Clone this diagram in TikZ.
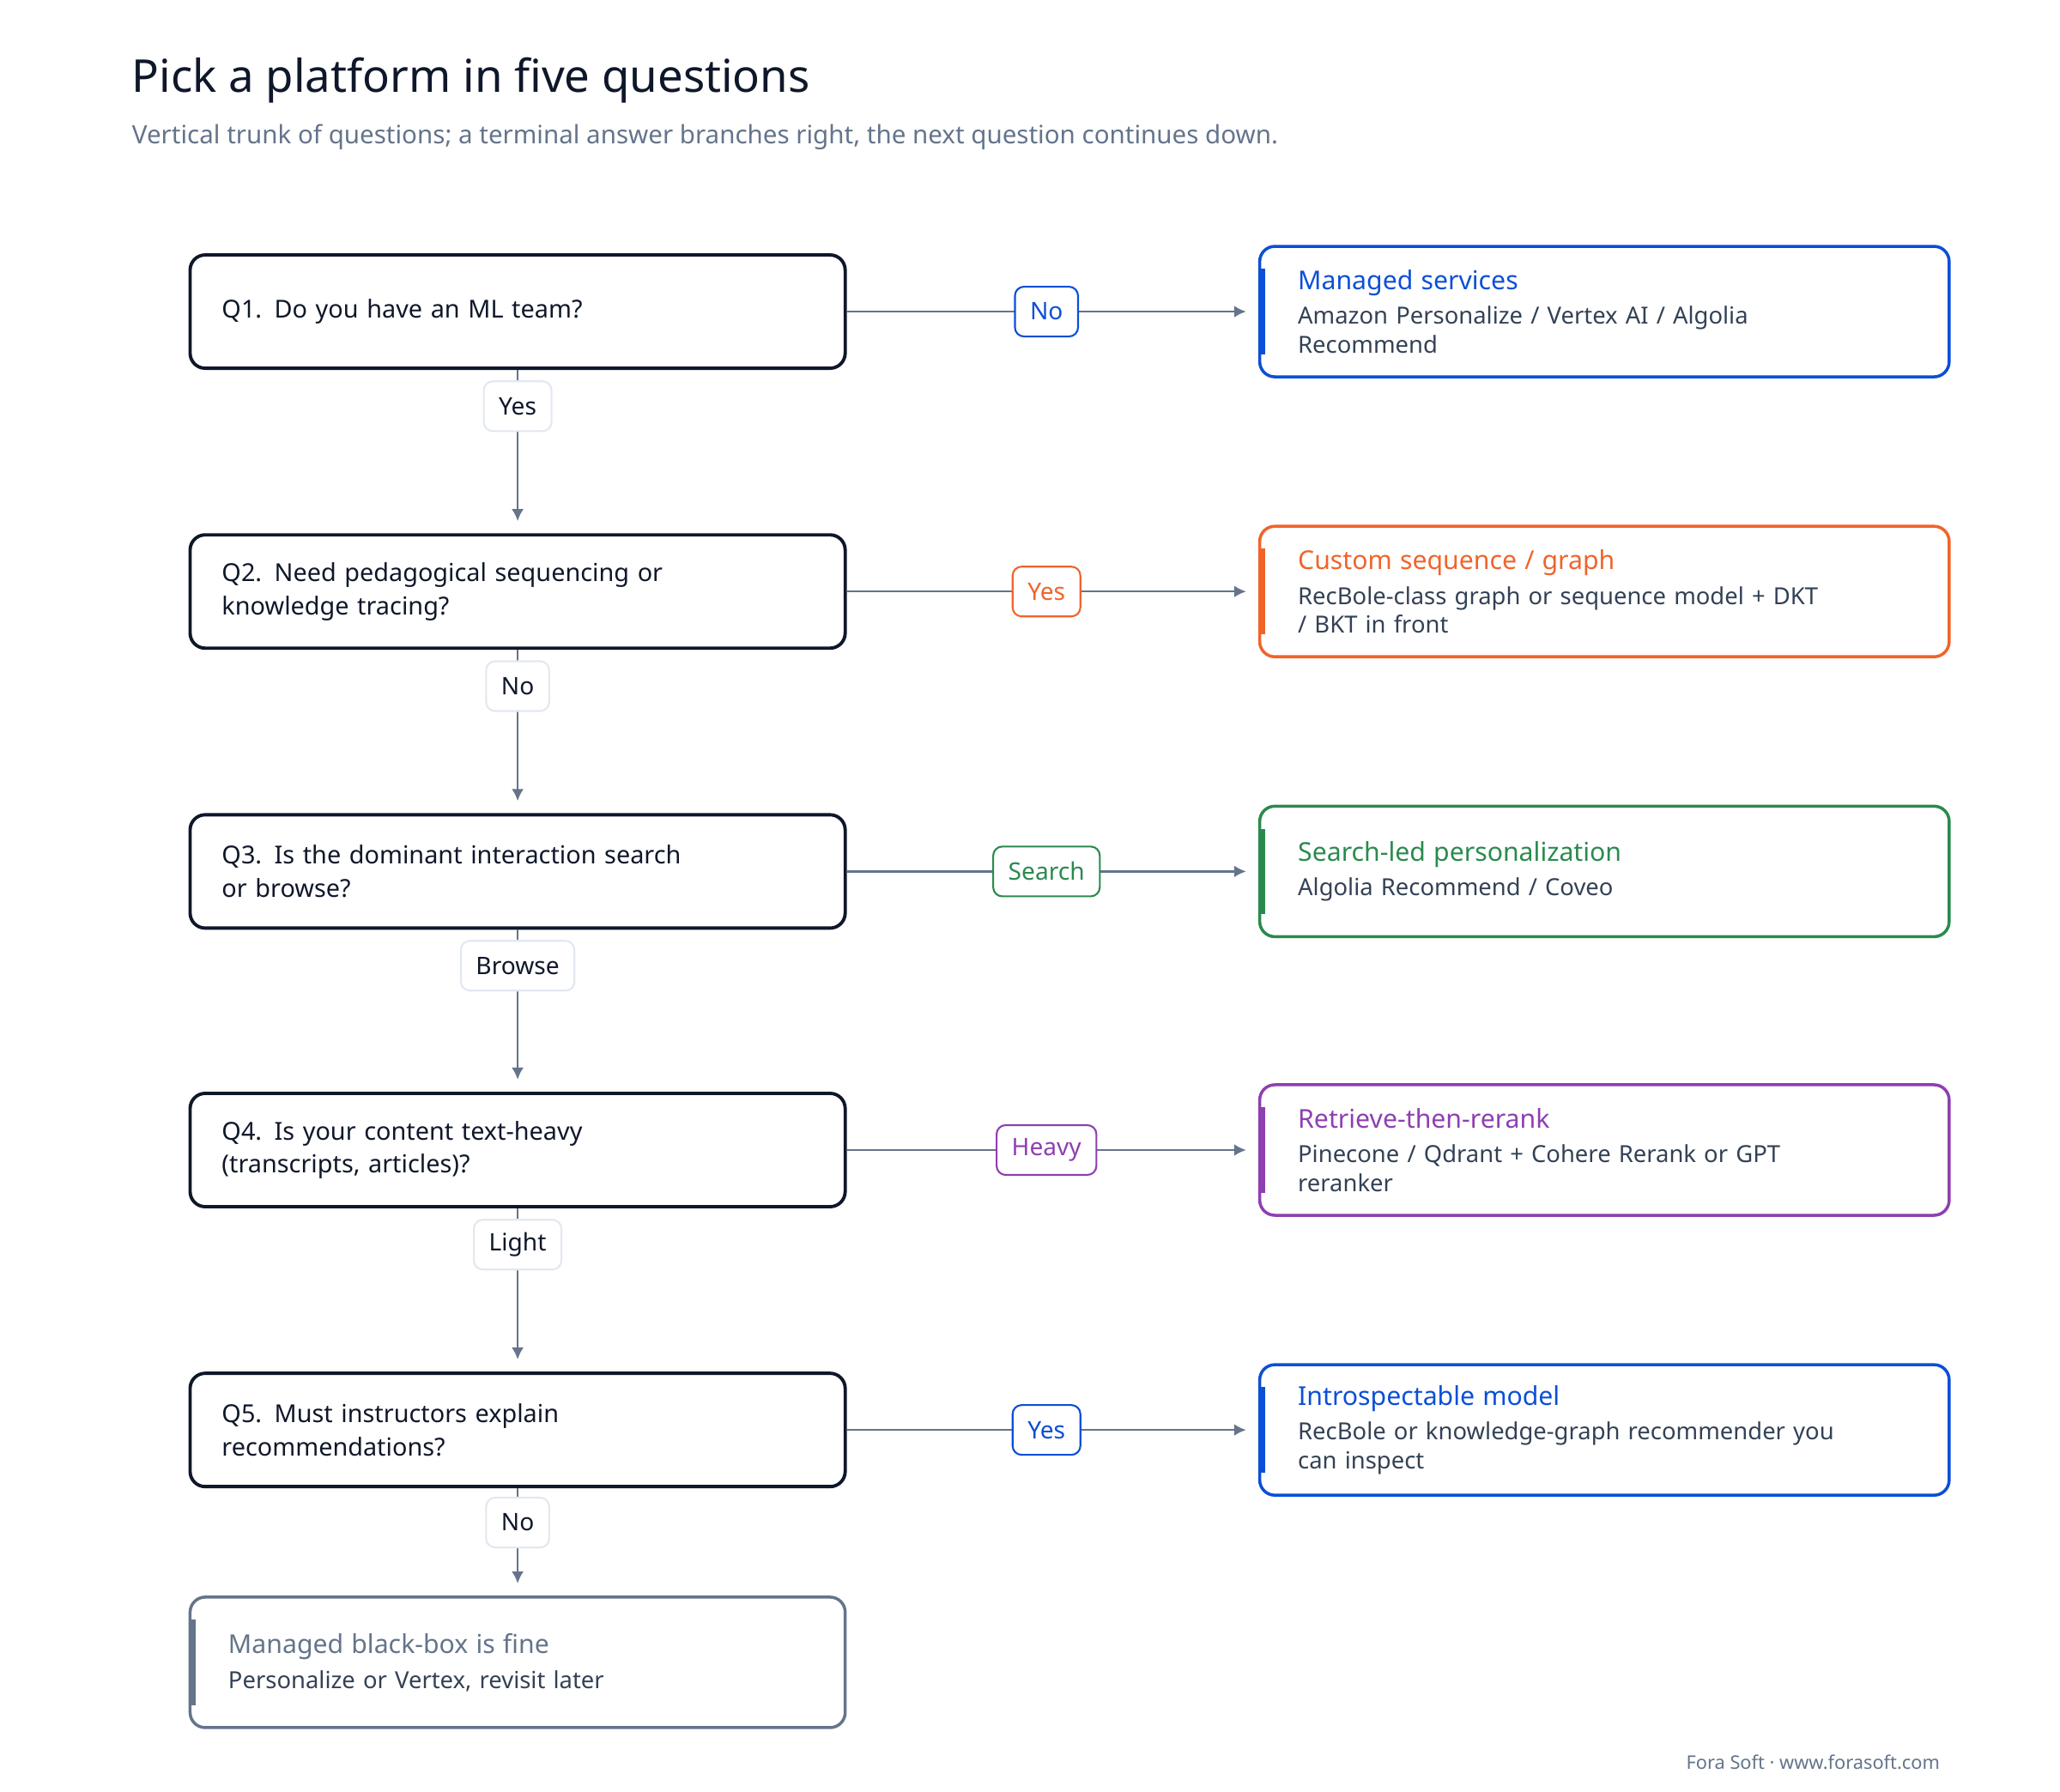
\documentclass[tikz,border=0pt]{standalone}
\usepackage{fontspec}
\setmainfont{Noto Sans}
\usetikzlibrary{arrows.meta,positioning}
\definecolor{ink}{HTML}{0F172A}
\definecolor{slate}{HTML}{64748B}
\definecolor{lbl}{HTML}{E2E8F0}
\definecolor{cblue}{HTML}{0B4FD6}
\definecolor{corange}{HTML}{F0642A}
\definecolor{cgreen}{HTML}{2A8A4E}
\definecolor{cpurple}{HTML}{8E3FB0}
\definecolor{body}{HTML}{334155}
\newcommand\anshead[2]{{\fontsize{8.6}{11}\selectfont\bfseries\color{#1}#2}}

\begin{document}
\begin{tikzpicture}[
  x=0.01538cm,y=-0.01538cm,
  quest/.style={draw=ink,line width=1.1pt,rounded corners=5pt,minimum width=7.63cm,minimum height=1.32cm,
    text width=6.89cm,align=left,font=\fontsize{8.2}{11}\selectfont\bfseries,text=ink},
  ans/.style={draw=#1,line width=1pt,rounded corners=5pt,minimum width=8.03cm,minimum height=1.52cm,
    text width=7.14cm,align=left,font=\fontsize{7.8}{9.6}\selectfont,text=body},
  yes/.style={draw=#1,text=#1,fill=white,rounded corners=3pt,line width=0.6pt,
    font=\fontsize{8}{10}\selectfont\bfseries,inner xsep=5pt,minimum height=0.58cm},
  down/.style={draw=lbl,text=ink,fill=white,rounded corners=3pt,line width=0.6pt,
    font=\fontsize{8}{10}\selectfont\bfseries,inner xsep=5pt,minimum height=0.58cm},
  arr/.style={-{Latex[length=4pt,width=4pt]},draw=slate,line width=0.7pt}
]
\useasboundingbox (0,0) rectangle (1560,1357);
% header
\node[anchor=base west,font=\fontsize{15}{18}\selectfont\bfseries,text=ink] (title) at (92,70) {Pick a platform in five questions};
\node[anchor=base west,font=\fontsize{8.4}{10}\selectfont,text=slate] (sub) at (92,109) {Vertical trunk of questions; a terminal answer branches right, the next question continues down.};

% questions
\node[quest] (q1) at (392,236) {Q1. Do you have an ML team?};
\node[quest] (q2) at (392,448) {Q2. Need pedagogical sequencing or\\knowledge tracing?};
\node[quest] (q3) at (392,660) {Q3. Is the dominant interaction search\\or browse?};
\node[quest] (q4) at (392,871) {Q4. Is your content text-heavy\\(transcripts, articles)?};
\node[quest] (q5) at (392,1083) {Q5. Must instructors explain\\recommendations?};

% answers
\node[ans=cblue] (a1) at (1215,236) {\anshead{cblue}{Managed services}\\[2pt]Amazon Personalize / Vertex AI / Algolia\\Recommend};
\node[ans=corange] (a2) at (1215,448) {\anshead{corange}{Custom sequence / graph}\\[2pt]RecBole-class graph or sequence model + DKT\\/ BKT in front};
\node[ans=cgreen] (a3) at (1215,660) {\anshead{cgreen}{Search-led personalization}\\[2pt]Algolia Recommend / Coveo};
\node[ans=cpurple] (a4) at (1215,871) {\anshead{cpurple}{Retrieve-then-rerank}\\[2pt]Pinecone / Qdrant + Cohere Rerank or GPT\\reranker};
\node[ans=cblue] (a5) at (1215,1083) {\anshead{cblue}{Introspectable model}\\[2pt]RecBole or knowledge-graph recommender you\\can inspect};
\node[ans=slate,minimum width=7.63cm,text width=6.74cm] (a6) at (392,1259) {\anshead{slate}{Managed black-box is fine}\\[2pt]Personalize or Vertex, revisit later};

% accent bars
\foreach \n/\c in {a1/cblue,a2/corange,a3/cgreen,a4/cpurple,a5/cblue,a6/slate}
  \fill[\c] ([yshift=-0.28cm]\n.north west) rectangle ([xshift=0.08cm,yshift=0.28cm]\n.south west);

% branches right
\foreach \q/\a/\t/\c in {q1/a1/No/cblue,q2/a2/Yes/corange,q3/a3/Search/cgreen,q4/a4/Heavy/cpurple,q5/a5/Yes/cblue}
  \draw[arr] (\q.east) -- node[yes=\c]{\t} ([xshift=-4pt]\a.west);

% trunk down
\foreach \q/\n/\t/\p in {q1/q2/Yes/0.24,q2/q3/No/0.24,q3/q4/Browse/0.24,q4/q5/Light/0.24,q5/a6/No/0.36}
  \draw[arr] (\q.south) -- node[down,pos=\p]{\t} ([yshift=4pt]\n.north);

\node[anchor=base east,font=\fontsize{6.2}{8}\selectfont,text=slate] (foot) at (1477,1340) {Fora Soft · www.forasoft.com};
\end{tikzpicture}
\end{document}
